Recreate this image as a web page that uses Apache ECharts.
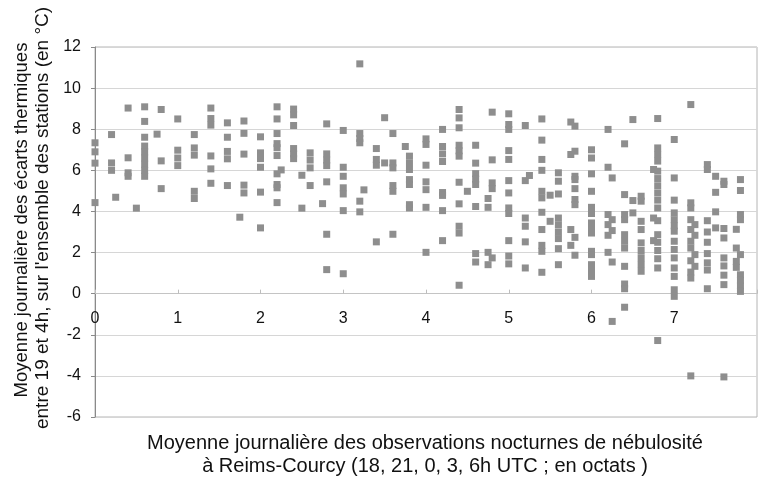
<!DOCTYPE html>
<html>
<head>
<meta charset="utf-8">
<script src="https://cdn.jsdelivr.net/npm/echarts@6/dist/echarts.min.js"></script>
<style>
  html, body { margin: 0; padding: 0; background: #ffffff; }
  #chart { width: 760px; height: 481px; }
</style>
</head>
<body>
<div id="chart"></div>
<script>
// Nébulosité nocturne moyenne (octats) : une colonne par valeur observée
const nebulosite = [
  0, 0.2, 0.25, 0.4, 0.5, 0.6, 0.75, 0.8, 1.0, 1.2, 1.4, 1.6, 1.75, 1.8,
  2.0, 2.2, 2.25, 2.4, 2.5, 2.6, 2.75, 2.8, 3.0, 3.2, 3.25, 3.4, 3.5, 3.6,
  3.75, 3.8, 4.0, 4.2, 4.4, 4.5, 4.6, 4.75, 4.8, 5.0, 5.2, 5.25, 5.4, 5.5,
  5.6, 5.75, 5.8, 6.0, 6.2, 6.25, 6.4, 6.5, 6.6, 6.75, 6.8, 7.0, 7.2, 7.25,
  7.4, 7.5, 7.6, 7.75, 7.8
];

// Écarts thermiques moyens (°C) relevés pour chaque valeur de nébulosité
const ecarts = [
  [7.34, 6.9, 6.35, 4.43],
  [7.74, 6.36, 6.0],
  [4.69],
  [9.03, 6.61, 5.88, 5.71],
  [4.16],
  [9.09, 8.38, 7.61, 7.18, 6.9, 6.6, 6.3, 6.0, 5.71],
  [7.76],
  [8.96, 6.46, 5.11],
  [8.5, 6.98, 6.6, 6.23],
  [7.74, 7.09, 6.74, 4.98, 4.63],
  [9.03, 8.52, 8.2, 6.7, 6.07, 5.37],
  [8.31, 7.61, 6.92, 6.56, 5.26],
  [3.72],
  [8.4, 7.8, 6.79, 5.28, 4.9],
  [7.63, 6.85, 6.57, 6.15, 4.94, 3.2],
  [9.09, 8.5, 7.79, 7.3, 7.1, 6.72, 5.83, 5.31, 5.15, 4.43],
  [6.02],
  [8.98, 8.7, 8.18, 7.06, 6.8, 6.57],
  [5.76, 4.16],
  [6.85, 6.5, 6.12, 5.26],
  [4.38],
  [8.26, 6.8, 6.5, 6.23, 5.44, 2.89, 1.17],
  [7.94, 6.15, 5.71, 5.15, 4.85, 4.04, 0.97],
  [11.18, 7.79, 7.55, 7.34, 4.5, 3.98],
  [5.05],
  [7.06, 6.53, 6.25, 2.52],
  [8.56, 6.36],
  [7.79, 6.36, 6.12, 5.26, 4.98, 2.89],
  [7.16],
  [6.69, 6.36, 6.04, 5.55, 5.31, 4.33, 4.17],
  [7.53, 7.26, 6.25, 5.44, 5.06, 4.2, 2.01],
  [7.99, 7.16, 6.8, 6.43, 4.92, 4.78, 4.04, 2.58],
  [8.96, 8.55, 8.07, 7.22, 6.95, 6.69, 5.42, 4.37, 3.28, 2.95, 0.41],
  [4.98],
  [7.22, 6.35, 5.84, 5.57, 5.31, 4.24, 1.95, 1.54],
  [4.63, 4.2, 2.01, 1.41],
  [8.83, 6.51, 5.39, 5.11, 1.74],
  [8.75, 8.23, 7.99, 6.96, 6.53, 5.5, 4.9, 4.17, 3.9, 2.58, 1.83, 1.45],
  [8.18, 5.5, 3.68, 3.28, 2.52, 1.25],
  [5.75],
  [8.5, 7.47, 6.53, 6.0, 4.98, 4.66, 3.96, 3.12, 2.35, 2.06, 1.04],
  [4.79, 3.52],
  [5.88, 5.47, 4.85, 3.68, 3.35, 3.0, 2.68, 2.19, 1.41],
  [8.35, 6.77, 3.12, 2.35],
  [8.15, 6.93, 5.71, 5.55, 5.11, 4.58, 4.33, 2.74, 1.87],
  [7.0, 6.6, 5.83, 4.98, 4.2, 3.9, 3.44, 3.2, 2.95, 2.06, 1.9, 1.41, 1.1, 0.84],
  [7.99, 6.15, 3.85, 3.36, 2.84, 2.01],
  [5.63, 3.6, 3.07, 1.54, -1.35],
  [7.29, 4.82, 3.85, 3.6, 2.87, 2.55, 2.22, 1.33, 0.47, 0.24, -0.66],
  [8.47, 4.53, 3.93],
  [4.74, 4.5, 3.52, 3.12, 2.47, 2.1, 1.75, 1.42, 1.09],
  [6.04, 3.68, 2.58],
  [8.52, 7.09, 6.77, 6.45, 5.96, 5.6, 5.25, 4.9, 4.55, 4.17, 3.55, 2.87, 2.5, 2.1, 1.7, 1.25, -2.28],
  [7.5, 5.63, 4.55, 3.93, 3.6, 3.3, 3.04, 2.55, 2.15, 1.74, 1.25, 0.84, 0.19, -0.13],
  [9.2, 4.42, 4.17, 3.6, 3.12, 2.55, 2.22, 1.6, 1.05, 0.76, -4.0],
  [3.36, 2.84, 1.9, 1.33],
  [6.28, 6.04, 3.55, 3.0, 2.5, 1.95, 1.5, 1.15, 0.24],
  [5.71, 4.93, 3.98, 3.2],
  [5.47, 5.31, 3.17, 2.71, 1.74, 1.35, 0.9, 0.44, -4.05],
  [3.13, 2.22, 1.57, 1.28],
  [5.55, 5.02, 3.85, 3.6, 1.9, 0.92, 0.65, 0.38, 0.11]
];

const yTicks = { min: -6, max: 12, step: 2 };
const xTicks = { min: 0, max: 8, step: 1, lastShown: 7 };

const points = [];
nebulosite.forEach(function (x, i) {
  ecarts[i].forEach(function (y) { points.push([x, y]); });
});

const font = '"Liberation Sans", Arial, sans-serif';
const gridTop = 47, gridBottom = 64, chartH = 481;
const plotH = chartH - gridTop - gridBottom;
// distance from the bottom edge of the plot up to the y = 0 line
const zeroOffset = plotH * (0 - yTicks.min) / (yTicks.max - yTicks.min);

const chart = echarts.init(document.getElementById('chart'), null, { renderer: 'canvas' });

chart.setOption({
  backgroundColor: '#ffffff',
  animation: false,
  grid: {
    left: 95, top: gridTop, right: -5, bottom: gridBottom,
    show: true, borderColor: '#b4b4b4', borderWidth: 1, backgroundColor: 'transparent'
  },
  xAxis: {
    type: 'value',
    min: xTicks.min, max: xTicks.max, interval: xTicks.step,
    offset: -zeroOffset,
    axisLine: { onZero: false, lineStyle: { color: '#c4c4c4', width: 1 } },
    axisTick: { show: true, inside: true, length: 4, lineStyle: { color: '#bdbdbd' } },
    axisLabel: {
      color: '#111', fontSize: 16, fontFamily: font, margin: 17,
      formatter: function (v) { return v > xTicks.lastShown ? '' : String(v); }
    },
    splitLine: { show: false }
  },
  yAxis: {
    type: 'value',
    min: yTicks.min, max: yTicks.max, interval: yTicks.step,
    axisLine: { show: true, lineStyle: { color: '#8a8a8a', width: 1 } },
    axisTick: { show: true, length: 4, lineStyle: { color: '#8a8a8a' } },
    axisLabel: { color: '#111', fontSize: 16, fontFamily: font, margin: 14 },
    splitLine: { show: true, lineStyle: { color: '#d6d6d6', width: 1 } }
  },
  graphic: [
    {
      type: 'text',
      x: 22, y: 220, rotation: Math.PI / 2,
      style: {
        text: 'Moyenne journalière des écarts thermiques',
        font: '18.5px ' + font, fill: '#111', align: 'center', verticalAlign: 'middle'
      }
    },
    {
      type: 'text',
      x: 43, y: 218, rotation: Math.PI / 2,
      style: {
        text: "entre 19 et 4h, sur l'ensemble des stations (en °C)",
        font: '19px ' + font, fill: '#111', align: 'center', verticalAlign: 'middle'
      }
    },
    {
      type: 'text',
      x: 425, y: 443,
      style: {
        text: 'Moyenne journalière des observations nocturnes de nébulosité',
        font: '20px ' + font, fill: '#111', align: 'center', verticalAlign: 'middle'
      }
    },
    {
      type: 'text',
      x: 425, y: 466,
      style: {
        text: 'à Reims-Courcy (18, 21, 0, 3, 6h UTC ; en octats )',
        font: '20px ' + font, fill: '#111', align: 'center', verticalAlign: 'middle'
      }
    }
  ],
  series: [{
    type: 'scatter',
    data: points,
    symbol: 'rect',
    symbolSize: 7,
    itemStyle: { color: '#8e8e8e', opacity: 1 },
    emphasis: { disabled: true }
  }]
});
</script>
</body>
</html>
